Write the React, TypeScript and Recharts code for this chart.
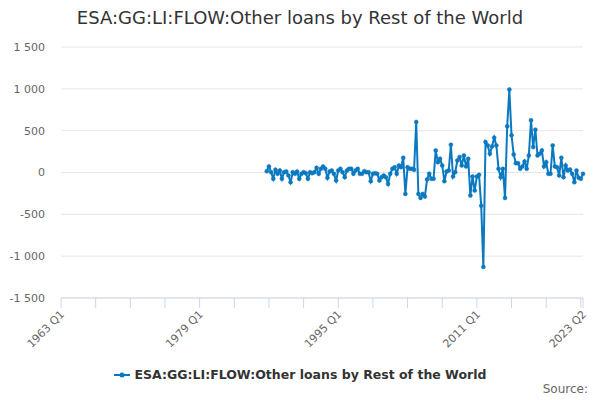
import React from 'react';
import { LineChart, Line, XAxis, YAxis, CartesianGrid, Legend } from 'recharts';

const seriesName = 'ESA:GG:LI:FLOW:Other loans by Rest of the World';
const lineColor = '#0b79c0';

// quarterly categories, 1963 Q1 .. 2023 Q2
const firstYear = 1963;
const quarterCount = 242;
const quarters: string[] = [];
for (let i = 0; i < quarterCount; i++) {
  quarters.push(`${firstYear + Math.floor(i / 4)} Q${(i % 4) + 1}`);
}

const tickLabels = ['1963 Q1', '1979 Q1', '1995 Q1', '2011 Q1', '2023 Q2'];
const minorTicks = quarters.filter((_, i) => i % 16 === 0).concat(['2023 Q2']);
const yTicks = [-1500, -1000, -500, 0, 500, 1000, 1500];

// series starts at 1986 Q4
const seriesStart = '1986 Q4';
const values = [
  16, 72, 4, -76, 32, -16, 24, -76, 4, 12,
  -36, -116, 4, -16, 12, -76, -16, 4, -8, -76,
  4, -8, 4, 56, -16, 44, 72, 44, -64, 12,
  24, -16, -96, 24, 44, 4, -56, 24, 44, 44,
  -16, 24, 44, -16, -16, 16, 4, 4, -104, -16,
  -8, -16, -96, -56, -36, -56, -136, -16, 44, 64,
  -16, 84, 64, 176, -256, 64, 44, 44, 32, 604,
  -256, -304, -256, -288, -84, -16, -76, -76, 264, 124,
  164, 84, -104, 12, 24, 332, -48, 4, 144, 184,
  84, 204, 72, 164, -276, -48, -216, -48, -28, -396,
  -1128,
  364, 324, 224, 312, 416, 324, 44, -56, 44, -304, 552, 992,
  444, 216, 112, 112, 44, 72, 132, 44, 204, 624,
  304, 512, 204, 224, 264, 72, 124, -16, -16, 324,
  72, 64, -36, 176, -56, 84, 24, 36, -16, -116,
  24, -64, -76, -16,
];

const startIdx = quarters.indexOf(seriesStart);
const data = quarters.map((q, i) => ({
  name: q,
  value: i >= startIdx && i - startIdx < values.length ? values[i - startIdx] : null,
}));

const fmt = (v: number) => {
  const s = Math.abs(v).toString().replace(/\B(?=(\d{3})+(?!\d))/g, ' ');
  return (v < 0 ? '-' : '') + s;
};

const font = '"DejaVu Sans", sans-serif';

const XTick = (props: any) => {
  const { x, y, payload } = props;
  if (!tickLabels.includes(payload.value)) return null;
  const tx = x + 4;
  const ty = y + 5;
  return (
    <text
      x={tx}
      y={ty}
      textAnchor="end"
      fill="#666"
      fontSize={11}
      fontFamily={font}
      transform={`rotate(-45 ${tx} ${ty})`}
    >
      {payload.value}
    </text>
  );
};

const LegendContent = () => (
  <div style={{ display: 'flex', justifyContent: 'center', alignItems: 'center', fontFamily: font }}>
    <svg width={16} height={10} style={{ marginRight: 5 }}>
      <line x1={0} y1={5} x2={16} y2={5} stroke={lineColor} strokeWidth={2} />
      <circle cx={8} cy={5} r={2.5} fill={lineColor} />
    </svg>
    <span style={{ fontSize: 12.5, fontWeight: 'bold', color: '#333' }}>{seriesName}</span>
  </div>
);

export default function App() {
  return (
    <div style={{ position: 'absolute', left: 0, top: 0, width: 600, height: 400, background: '#fff' }}>
      <div
        style={{
          position: 'absolute', top: 7, left: 0, width: 600, textAlign: 'center',
          fontFamily: font, fontSize: 18, color: '#333',
        }}
      >
        {seriesName}
      </div>
      <LineChart
        width={600}
        height={400}
        data={data}
        margin={{ top: 47, right: 17, left: 0, bottom: 42 }}
      >
        <CartesianGrid vertical={false} stroke="#e6e6e6" />
        <XAxis
          dataKey="name"
          ticks={minorTicks}
          interval={0}
          height={60}
          tickSize={10}
          stroke="#ccd6eb"
          tickLine={{ stroke: '#ccd6eb' }}
          axisLine={{ stroke: '#ccd6eb' }}
          tick={<XTick />}
        />
        <YAxis
          width={61}
          domain={[-1500, 1500]}
          ticks={yTicks}
          axisLine={false}
          tickLine={false}
          tickMargin={10}
          tickFormatter={fmt}
          tick={{ fill: '#666', fontSize: 11, fontFamily: font }}
        />
        <Legend
          layout="horizontal"
          align="center"
          verticalAlign="middle"
          wrapperStyle={{ top: 367, left: 0, width: 600 }}
          content={<LegendContent />}
        />
        <Line
          type="linear"
          dataKey="value"
          stroke={lineColor}
          strokeWidth={2}
          dot={{ r: 2, fill: lineColor, stroke: lineColor, strokeWidth: 0.5 }}
          activeDot={false}
          isAnimationActive={false}
        />
      </LineChart>
      <div
        style={{
          position: 'absolute', right: 12, top: 382, fontFamily: font,
          fontSize: 12, color: '#666',
        }}
      >
        Source:
      </div>
    </div>
  );
}
